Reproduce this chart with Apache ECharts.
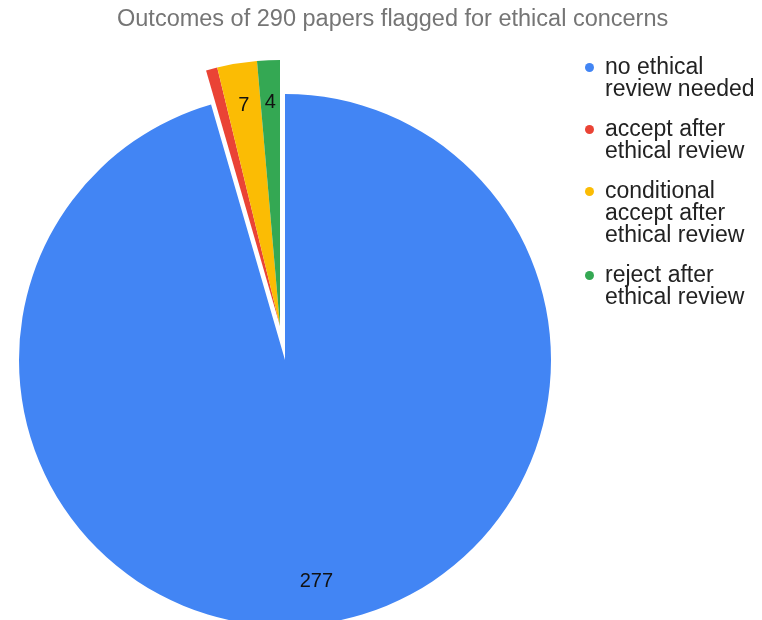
<!DOCTYPE html>
<html>
<head>
<meta charset="utf-8">
<script src="https://cdn.jsdelivr.net/npm/echarts@6/dist/echarts.min.js"></script>
<style>html,body{margin:0;padding:0;background:#fff}#c{width:762px;height:620px}</style>
</head>
<body>
<div id="c"></div>
<script>
const titleText = 'Outcomes of 290 papers flagged for ethical concerns';
const categories = ['no ethical review needed', 'accept after ethical review', 'conditional accept after ethical review', 'reject after ethical review'];
const legendLines = [['no ethical', 'review needed'], ['accept after', 'ethical review'], ['conditional', 'accept after', 'ethical review'], ['reject after', 'ethical review']];
const values = [277, 2, 7, 4];
const showLabel = [true, false, true, true];
const exploded = [false, true, true, true];
const colors = ['#4285F4', '#EA4335', '#FBBC04', '#34A853'];

const FONT = '"Liberation Sans", Arial, sans-serif';
const R = 266;
const mainCenter = [285, 360];
const explodeCenter = [280, 326];

function pieData(visibleFn, labelFn) {
  return categories.map((name, i) => ({
    name: name,
    value: values[i],
    itemStyle: { color: visibleFn(i) ? colors[i] : 'rgba(0,0,0,0)' },
    label: { show: labelFn(i) }
  }));
}

const baseSeries = {
  type: 'pie',
  startAngle: 90,
  clockwise: true,
  avoidLabelOverlap: false,
  silent: true,
  animation: false,
  labelLine: { show: false },
  emphasis: { disabled: true },
  itemStyle: { borderWidth: 0 }
};

const LEG_FS = 23;
const rich = {
  f: { padding: [0, 0, 0, 11], fontSize: LEG_FS, lineHeight: 22, color: '#222', fontFamily: FONT },
  n: { padding: [0, 0, 0, 20], fontSize: LEG_FS, lineHeight: 22, color: '#222', fontFamily: FONT }
};
colors.forEach((c, i) => { rich['d' + i] = { width: 9, height: 9, borderRadius: 4.5, backgroundColor: c }; });

const chart = echarts.init(document.getElementById('c'), null, { renderer: 'canvas' });
chart.setOption({
  backgroundColor: '#fff',
  title: {
    text: titleText,
    left: 112,
    top: 3,
    textStyle: { fontSize: 23.5, fontWeight: 'normal', color: '#757575', fontFamily: FONT }
  },
  legend: {
    orient: 'vertical',
    left: 580,
    top: 56,
    padding: 0,
    itemGap: 17,
    itemWidth: 0,
    itemHeight: 22,
    icon: 'none',
    selectedMode: false,
    data: categories,
    textStyle: { fontSize: LEG_FS, lineHeight: 22, color: '#222', fontFamily: FONT, rich: rich },
    formatter: function (name) {
      const i = categories.indexOf(name);
      return legendLines[i].map((l, k) => k === 0 ? '{d' + i + '|}{f|' + l + '}' : '{n|' + l + '}').join('\n');
    }
  },
  series: [
    Object.assign({}, baseSeries, {
      name: 'main', center: mainCenter, radius: [0, R],
      label: { show: false },
      data: pieData(i => !exploded[i], () => false)
    }),
    Object.assign({}, baseSeries, {
      name: 'exploded', center: explodeCenter, radius: [0, R],
      label: { show: false },
      data: pieData(i => exploded[i], () => false)
    }),
    Object.assign({}, baseSeries, {
      name: 'mainLabels', center: mainCenter, radius: [R * 0.66, R],
      label: { position: 'inside', fontSize: 20, color: '#111', fontFamily: FONT, formatter: '{c}' },
      data: pieData(() => false, i => !exploded[i] && showLabel[i])
    }),
    Object.assign({}, baseSeries, {
      name: 'explodedLabels', center: explodeCenter, radius: [R * 0.66, R],
      label: { position: 'inside', fontSize: 20, color: '#111', fontFamily: FONT, formatter: '{c}' },
      data: pieData(() => false, i => exploded[i] && showLabel[i])
    })
  ]
});
</script>
</body>
</html>
